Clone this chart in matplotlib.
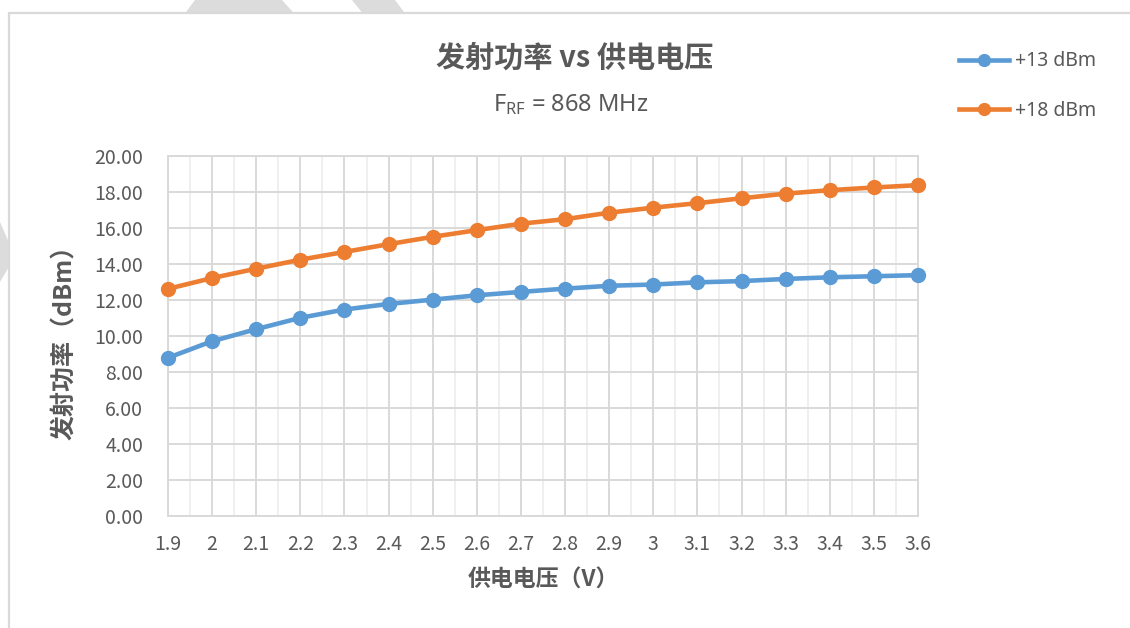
import matplotlib
matplotlib.use("Agg")
import matplotlib.pyplot as plt
from matplotlib.patches import Polygon, Rectangle

plt.rcParams["font.family"] = ["Noto Sans CJK SC", "DejaVu Sans"]

voltage = [1.9, 2.0, 2.1, 2.2, 2.3, 2.4, 2.5, 2.6, 2.7,
           2.8, 2.9, 3.0, 3.1, 3.2, 3.3, 3.4, 3.5, 3.6]
x_labels = ["1.9", "2", "2.1", "2.2", "2.3", "2.4", "2.5", "2.6", "2.7",
            "2.8", "2.9", "3", "3.1", "3.2", "3.3", "3.4", "3.5", "3.6"]
pwr_13 = [8.79, 9.71, 10.38, 11.01, 11.47, 11.78, 12.02, 12.26, 12.45,
          12.63, 12.79, 12.86, 12.98, 13.05, 13.17, 13.26, 13.32, 13.38]
pwr_18 = [12.62, 13.22, 13.74, 14.24, 14.67, 15.10, 15.51, 15.88, 16.24,
          16.49, 16.85, 17.13, 17.38, 17.65, 17.91, 18.10, 18.25, 18.38]
series_names = ["+13 dBm", "+18 dBm"]
series_colors = ["#5b9bd5", "#ed7d31"]

W, H = 1130, 628
GRID = "#d9d9d9"
TXT = "#595959"
LATIN = ["Noto Sans", "DejaVu Sans"]


def fx(px):
    return px / W


def fy(py):
    return 1 - py / H


fig = plt.figure(figsize=(W / 100, H / 100), dpi=100)

# faint diagonal bands behind the chart frame
bands = [
    [(195, 0), (282, 0), (300, 20), (180, 20)],
    [(352, 0), (395, 0), (410, 20), (368, 20)],
    [(0, 222), (10, 245), (10, 265), (0, 282)],
]
for pts in bands:
    fig.patches.append(Polygon([(fx(a), fy(b)) for a, b in pts], closed=True,
                               transform=fig.transFigure, facecolor="#dcdcdc",
                               edgecolor="none", zorder=0))
fig.patches.append(Rectangle((fx(8.5), fy(640)), fx(1140), fy(13) - fy(640),
                             transform=fig.transFigure, facecolor="white",
                             edgecolor=GRID, linewidth=1.6, zorder=1))

ax = fig.add_axes([fx(168), fy(516), fx(918) - fx(168), fy(156) - fy(516)])
ax.set_zorder(2)
ax.patch.set_alpha(0)

for vals, name, col in zip([pwr_13, pwr_18], series_names, series_colors):
    ax.plot(voltage, vals, color=col, linewidth=3.3, marker="o",
            markersize=10, label=name, zorder=3, clip_on=False)

ax.set_xlim(voltage[0], voltage[-1])
ax.set_ylim(0, 20)
ax.set_yticks(range(0, 21, 2))
ax.set_yticklabels([f"{v:.2f}" for v in range(0, 21, 2)])
ax.set_xticks(voltage)
ax.set_xticklabels(x_labels)
ax.set_xticks([(a + b) / 2 for a, b in zip(voltage[:-1], voltage[1:])], minor=True)

ax.grid(True, which="major", color=GRID, linewidth=1.4, zorder=0)
ax.grid(True, which="minor", axis="x", color="#ececec", linewidth=1.2, zorder=0)
for s in ax.spines.values():
    s.set_color(GRID)
    s.set_linewidth(1.4)
ax.tick_params(which="both", length=0)
ax.tick_params(axis="y", pad=18, labelsize=14, labelcolor=TXT)
ax.tick_params(axis="x", pad=13, labelsize=14, labelcolor=TXT)

ax.set_ylabel("发射功率（dBm）", fontsize=18, fontweight="bold", color=TXT, labelpad=12)
ax.set_xlabel("供电电压（V）", fontsize=16.5, fontweight="bold", color=TXT, labelpad=10)

fig.text(fx(575), fy(58), "发射功率 vs 供电电压", ha="center", va="center",
         fontsize=21, fontweight="bold", color=TXT)
fig.text(fx(571), fy(105), r"$\mathregular{F_{RF}}$ = 868 MHz", ha="center",
         va="center", fontsize=17, color=TXT, family=LATIN)

ax.legend(loc="upper left", bbox_to_anchor=(fx(941), fy(34)),
          bbox_transform=fig.transFigure, frameon=False,
          prop={"family": LATIN, "size": 14}, labelcolor=TXT,
          handlelength=2.6, handletextpad=0.3, labelspacing=1.5,
          markerscale=0.85)

fig.savefig("out.png", dpi=100)
